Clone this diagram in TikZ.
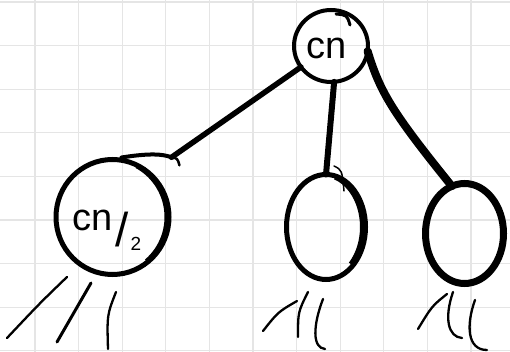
\documentclass[tikz,border=0pt]{standalone}
\usepackage{fontspec}
\usepackage{graphicx}
\setmainfont{Liberation Sans}
\usetikzlibrary{shapes.geometric,calc}
\tikzset{
  grid line/.style={draw=black!10, line width=1.3pt},
  bubble/.style={ellipse, draw, inner sep=0pt, outer sep=0pt},
  link/.style={line width=5.5pt, line cap=round},
  stub/.style={line width=2.3pt, line cap=round},
  tail/.style={line width=2pt, line cap=round},
  hand/.style={inner sep=0pt, font=\fontsize{38}{38}\selectfont},
}
\newcommand{\bigslash}{\raisebox{-16pt}{\scalebox{1.25}{/}}}
\newcommand{\lowtwo}{\raisebox{-20pt}{\scalebox{0.5}{2}}}
\begin{document}
\begin{tikzpicture}[x=1pt,y=-1pt]
  % paper and grid
  \fill[white] (0,0) rectangle (510,352);
  \useasboundingbox (0,0) rectangle (510,352);
  \foreach \i in {0,...,10}
    \draw[grid line] ({35+43.6*\i},0) -- ({35+43.6*\i},352);
  \foreach \j in {0,...,8}
    \draw[grid line] (0,{2+43.6*\j}) -- (510,{2+43.6*\j});

  % tree nodes
  \node[bubble, line width=4pt, minimum width=74pt, minimum height=72pt] (root) at (331,46) {};
  \node[bubble, line width=5pt, minimum width=113pt, minimum height=115pt] (left) at (112.5,217) {};
  \node[bubble, line width=5pt, minimum width=79pt, minimum height=105pt] (mid) at (326,227) {};
  \node[bubble, line width=7pt, minimum width=78pt, minimum height=100pt] (right) at (464.5,233.5) {};

  % heavier pen pressure on the right-hand sides
  \draw[line width=4pt]
    ($(left.center)+(-2.5pt,0pt)+(36.32pt,-44.05pt)$)
    arc[start angle=-50, end angle=62, x radius=56.5pt, y radius=57.5pt];
  \draw[line width=5pt]
    ($(mid.center)+(-3pt,0pt)+(27.93pt,-37.12pt)$)
    arc[start angle=-45, end angle=72, x radius=39.5pt, y radius=52.5pt];

  % labels
  \node[hand] (rootlbl) at (327,48) {cn};
  \node[hand, anchor=base west] (leftlbl) at (72,230)
    {cn\kern3pt\bigslash\kern2pt\lowtwo};

  % edges
  \coordinate (lhook) at ($(left.north east)+(19,-19)$);
  \coordinate (ltop) at ($(left.north)+(9,-2)$);
  \draw[link] (root.215) -- (lhook);
  \draw[tail, line width=4pt] (ltop) .. controls (150,153) and (163,154) .. (lhook);
  \draw[tail, line width=2.5pt] (lhook) .. controls ($(lhook)+(6,1)$) .. ($(lhook)+(8,8)$);
  \draw[link, line width=6pt] (root.-85) -- (mid.north);
  \draw[link, line width=8pt] (root.-8) .. controls (380,92) and (392,112) .. (right.105);

  % pen overlaps on the bubbles
  \draw[tail, line width=3pt] (336,14) .. controls (347,15) .. (350,25);
  \draw[tail, line width=1.5pt] (334,166) .. controls (342,170) .. (344,191);

  % unfinished branches below the children
  \draw[stub] (67,277) .. controls (40,303) .. (7,338);
  \draw[stub, line width=3pt] (91,283) -- (57,342);
  \draw[stub] (116,292) .. controls (107,315) .. (108,349);
  \draw[stub] (297,301) .. controls (278,312) .. (263,331);
  \draw[stub] (308,292) .. controls (298,312) .. (298,337);
  \draw[stub] (323,299) .. controls (313,325) and (312,348) .. (325,349);
  \draw[stub] (447,294) .. controls (432,306) .. (418,329);
  \draw[stub] (453,292) .. controls (444,318) and (448,337) .. (462,338);
  \draw[stub] (475,300) .. controls (466,325) and (467,350) .. (487,350);
\end{tikzpicture}
\end{document}
